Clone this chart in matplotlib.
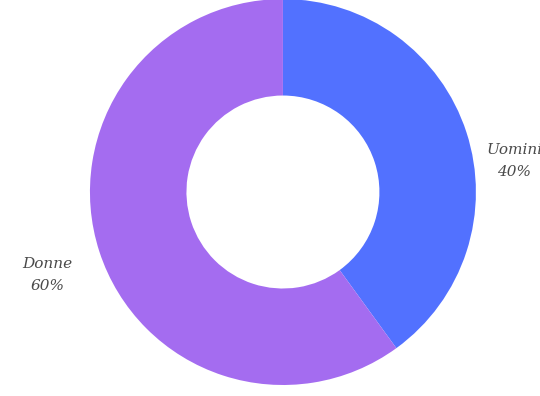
import matplotlib.pyplot as plt

labels = ["Uomini", "Donne"]
shares = [40, 60]
colors = ["#5271ff", "#a46cf0"]

fig = plt.figure(figsize=(5.40, 3.96), dpi=100)
ax = fig.add_axes([0, 0, 1, 1])

ax.pie(shares, colors=colors, startangle=90, counterclock=False,
       radius=1.0, wedgeprops=dict(width=0.5, linewidth=0))

# labels sit outside the ring, in a light italic grey
style = dict(fontsize=11, color="#4a4a4a", style="italic", family="DejaVu Serif",
             linespacing=1.7, ha="center", va="center", multialignment="center")
ax.text(1.20, 0.16, f"{labels[0]}\n{shares[0]}%", **style)
ax.text(-1.22, -0.43, f"{labels[1]}\n{shares[1]}%", **style)

ax.set_xlim(-1.466, 1.332)
ax.set_ylim(-1.057, 0.995)
ax.set_aspect("equal")
ax.axis("off")

fig.savefig("out.png", dpi=100)
